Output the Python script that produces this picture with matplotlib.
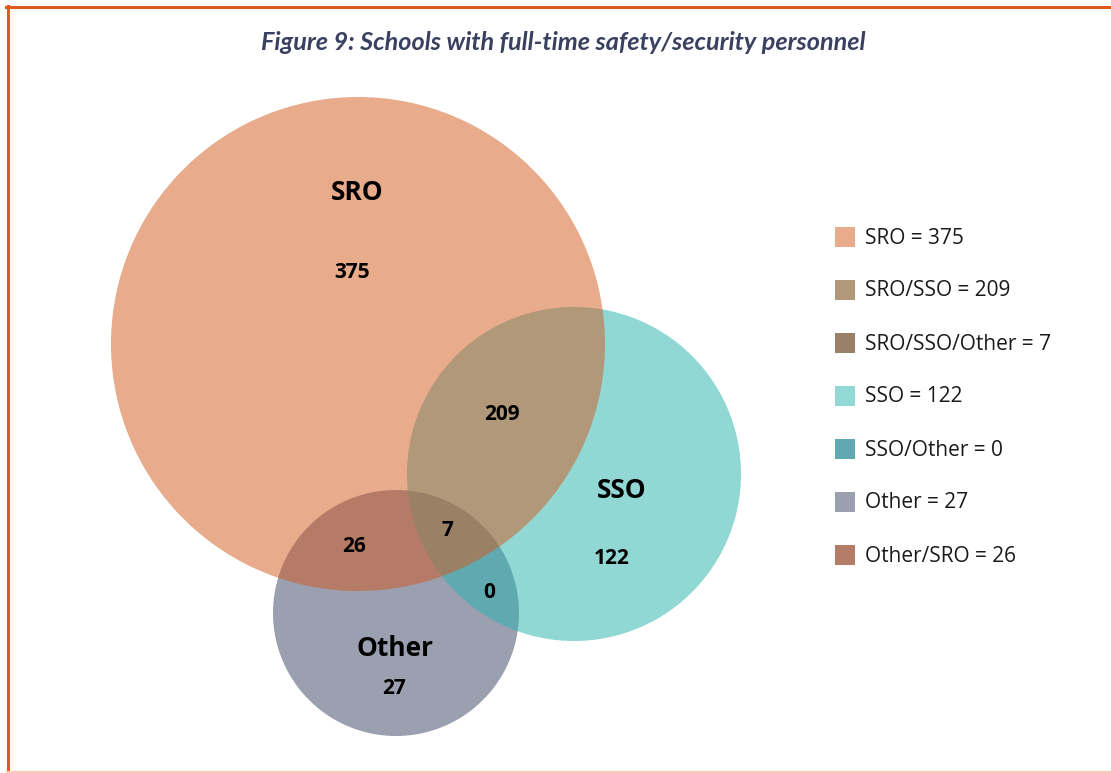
import numpy as np
import matplotlib
matplotlib.use("Agg")
import matplotlib.pyplot as plt
from matplotlib.patches import Rectangle
from matplotlib.lines import Line2D

# ---- data ----
title = "Figure 9: Schools with full-time safety/security personnel"
set_names = ["SRO", "SSO", "Other"]
region_labels = ["SRO", "SRO/SSO", "SRO/SSO/Other", "SSO", "SSO/Other", "Other", "Other/SRO"]
region_counts = [375, 209, 7, 122, 0, 27, 26]
region_colors = ["#E8AB8C", "#B09878", "#9A8066", "#92D9D6", "#5FA9B0", "#9AA0B0", "#B57C67"]

# ---- layout (pixel coordinates) ----
W, H = 1111, 773
circles = {"SRO": (358, 344, 247), "SSO": (574, 474, 167), "Other": (396, 613, 123)}
name_pos = {"SRO": (357, 193), "SSO": (622, 491), "Other": (395, 648)}
count_pos = {"SRO": (352, 272), "SRO/SSO": (502, 414), "SRO/SSO/Other": (447, 531),
             "SSO": (612, 559), "SSO/Other": (489, 592), "Other": (394, 688),
             "Other/SRO": (354, 547)}
region_sets = {"SRO": {"SRO"}, "SRO/SSO": {"SRO", "SSO"}, "SRO/SSO/Other": {"SRO", "SSO", "Other"},
               "SSO": {"SSO"}, "SSO/Other": {"SSO", "Other"}, "Other": {"Other"},
               "Other/SRO": {"SRO", "Other"}}

fig = plt.figure(figsize=(W / 100, H / 100), dpi=100)
ax = fig.add_axes([0, 0, 1, 1])
ax.set_xlim(0, W)
ax.set_ylim(H, 0)
ax.axis("off")

# supersampled region image
ss = 3
xs = (np.arange(W * ss) + 0.5) / ss
ys = (np.arange(H * ss) + 0.5) / ss
X, Y = np.meshgrid(xs, ys)
inside = {}
for n, (cx, cy, r) in circles.items():
    inside[n] = (X - cx) ** 2 + (Y - cy) ** 2 <= r ** 2
img = np.ones((H * ss, W * ss, 3))
for lab, col in zip(region_labels, region_colors):
    sets = region_sets[lab]
    m = np.ones_like(X, dtype=bool)
    for n in set_names:
        m &= inside[n] if n in sets else ~inside[n]
    img[m] = matplotlib.colors.to_rgb(col)
img = img.reshape(H, ss, W, ss, 3).mean(axis=(1, 3))
ax.imshow(img, extent=(0, W, H, 0), interpolation="none", zorder=1)

# border
ax.add_line(Line2D([6, W], [6.5, 6.5], color="#E05A1E", lw=2.2, zorder=5))
ax.add_line(Line2D([7.5, 7.5], [6, H], color="#E05A1E", lw=2.2, zorder=5))
ax.add_line(Line2D([7, W], [771.5, 771.5], color="#F8CBB8", lw=1.6, zorder=5))

# title
ax.text(563, 43, title, ha="center", va="center", fontsize=18.2, fontweight="bold",
        fontstyle="italic", color="#3A4060", family="Lato", zorder=6)

# set names
for n in set_names:
    x, y = name_pos[n]
    ax.text(x, y, n, ha="center", va="center", fontsize=19, fontweight="bold",
            color="black", family="Open Sans", zorder=6)

# region counts
for lab, cnt in zip(region_labels, region_counts):
    x, y = count_pos[lab]
    ax.text(x, y, str(cnt), ha="center", va="center", fontsize=15, fontweight="bold",
            color="black", family="Open Sans", zorder=6)

# legend
ly0, dy = 237, 53
for i, (lab, cnt, col) in enumerate(zip(region_labels, region_counts, region_colors)):
    y = ly0 + i * dy
    ax.add_patch(Rectangle((835, y - 10), 20, 20, facecolor=col, edgecolor="none", zorder=6))
    ax.text(865, y + 1, f"{lab} = {cnt}", ha="left", va="center", fontsize=15,
            color="#1a1a1a", family="Open Sans", zorder=6)

fig.savefig("out.png", dpi=100)
